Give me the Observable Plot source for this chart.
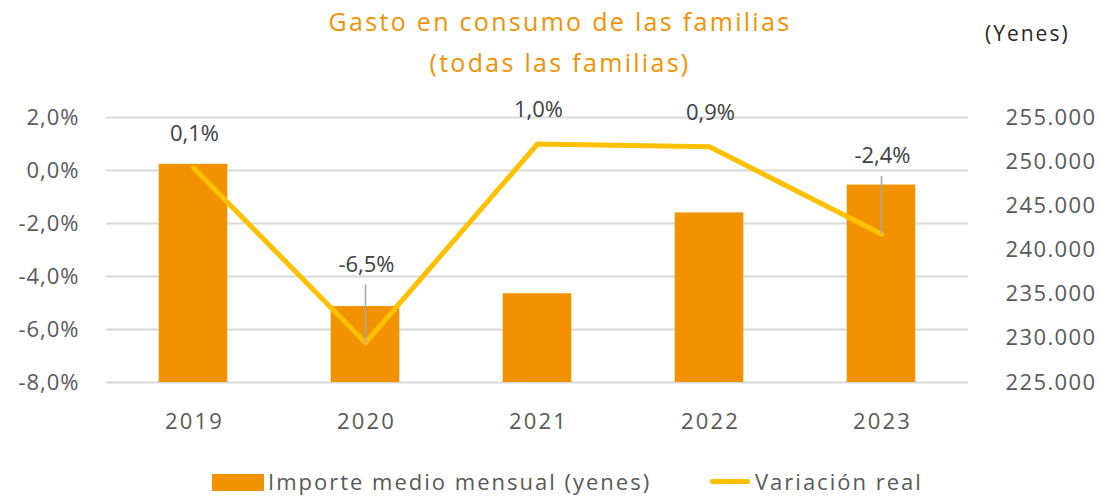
<!DOCTYPE html>
<html>
<head>
<meta charset="utf-8">
<script src="https://cdn.jsdelivr.net/npm/d3@7"></script>
<script src="https://cdn.jsdelivr.net/npm/@observablehq/plot@0.6"></script>
<style>
  html, body { margin: 0; padding: 0; background: #fff; }
  #wrap { position: relative; width: 1105px; height: 498px; font-family: "Open Sans", sans-serif; }
  #title { position: absolute; left: 0; width: 1120px; top: 1px; text-align: center; color: #F39200; font-size: 25px; line-height: 41px; letter-spacing: 2.3px; }
  #unit { position: absolute; left: 985px; top: 22px; color: #262626; font-size: 21px; line-height: 22px; letter-spacing: 2px; }
  .lg { position: absolute; font-size: 22px; line-height: 22px; color: #595959; letter-spacing: 2px; white-space: nowrap; top: 470px; }
  .sw-bar { position: absolute; left: 212px; top: 474px; width: 52px; height: 17px; background: #F39200; }
  .sw-line { position: absolute; left: 710px; top: 479px; width: 40px; height: 5px; border-radius: 3px; background: #FFC000; }
  #chart { position: absolute; left: 0; top: 0; }
</style>
</head>
<body>
<div id="wrap">
  <div id="chart"></div>
  <div id="title">Gasto en consumo de las familias<br>(todas las familias)</div>
  <div id="unit">(Yenes)</div>
  <span class="sw-bar"></span><span class="lg" style="left:268px">Importe medio mensual (yenes)</span>
  <span class="sw-line"></span><span class="lg" style="left:755px">Variación real</span>
</div>
<script>
// ---- data ----
const years = ["2019", "2020", "2021", "2022", "2023"];
const importe = [249700, 233600, 235050, 244200, 247350];   // yenes (right axis)
const variacion = [0.1, -6.5, 1.0, 0.9, -2.4];               // % (left axis)
const leftTicks = [2, 0, -2, -4, -6, -8];
const rightTicks = [255000, 250000, 245000, 240000, 235000, 230000, 225000];
const leaderYears = ["2020", "2023"];

// ---- mapping of the right (yen) axis onto the left (%) scale ----
const L0 = -8, L1 = 2, R0 = 225000, R1 = 255000;
const toLeft = v => L0 + (v - R0) / (R1 - R0) * (L1 - L0);
const toRight = d => Math.round((R0 + (d - L0) / (L1 - L0) * (R1 - R0)) / 1000) * 1000;

const rows = years.map((y, i) => ({year: y, importe: importe[i], variacion: variacion[i], leader: leaderYears.includes(y)}));
const fmtPct = d => d.toFixed(1).replace(".", ",") + "%";
const fmtYen = d => d3.format(",")(toRight(d)).replace(/,/g, ".");

const chart = Plot.plot({
  width: 1105,
  height: 498,
  marginLeft: 106,
  marginRight: 137,
  marginTop: 117,
  marginBottom: 116,
  style: {fontFamily: "'Open Sans', sans-serif", fontSize: "22px", color: "#595959", background: "transparent"},
  x: {type: "band", domain: years, padding: 0, label: null},
  y: {domain: [L0, L1], label: null},
  marks: [
    Plot.ruleY(leftTicks, {stroke: "#d9d9d9", strokeWidth: 2}),
    Plot.barY(rows, {x: "year", y1: L0, y2: d => toLeft(d.importe), fill: "#F39200", insetLeft: 51.7, insetRight: 51.7}),
    Plot.line(rows, {x: "year", y: "variacion", stroke: "#FFC000", strokeWidth: 5, strokeLinejoin: "round", strokeLinecap: "round"}),
    Plot.link(rows.filter(d => d.leader), {x1: "year", x2: "year", y1: "variacion", y2: d => d.variacion + 2.2, stroke: "#a6a6a6", strokeWidth: 1.5}),
    Plot.text(rows.filter(d => !d.leader), {x: "year", y: "variacion", text: d => fmtPct(d.variacion), dy: -34, dx: 1, fill: "#404040", fontSize: 22, ariaLabel: "data-label"}),
    Plot.text(rows.filter(d => d.leader), {x: "year", y: "variacion", text: d => fmtPct(d.variacion), dy: -78, dx: 1, fill: "#404040", fontSize: 22, ariaLabel: "data-label"}),
    Plot.axisY(leftTicks, {anchor: "left", tickSize: 0, tickPadding: 27, tickFormat: fmtPct, label: null}),
    Plot.axisY(rightTicks.map(toLeft), {anchor: "right", tickSize: 0, tickPadding: 37, tickFormat: fmtYen, label: null}),
    Plot.axisX({tickSize: 0, tickPadding: 31, dx: 1, label: null})
  ]
});
// letter spacing to approximate the wide reference typeface
const yAxes = chart.querySelectorAll('g[aria-label="y-axis tick label"]');
if (yAxes[0]) yAxes[0].style.letterSpacing = "1px";
if (yAxes[1]) yAxes[1].style.letterSpacing = "1.4px";
chart.querySelectorAll('g[aria-label="x-axis tick label"]').forEach(g => g.style.letterSpacing = "2.2px");
chart.querySelectorAll('g[aria-label="data-label"]').forEach(g => g.style.letterSpacing = "2.2px");
document.getElementById("chart").appendChild(chart);
</script>
</body>
</html>
